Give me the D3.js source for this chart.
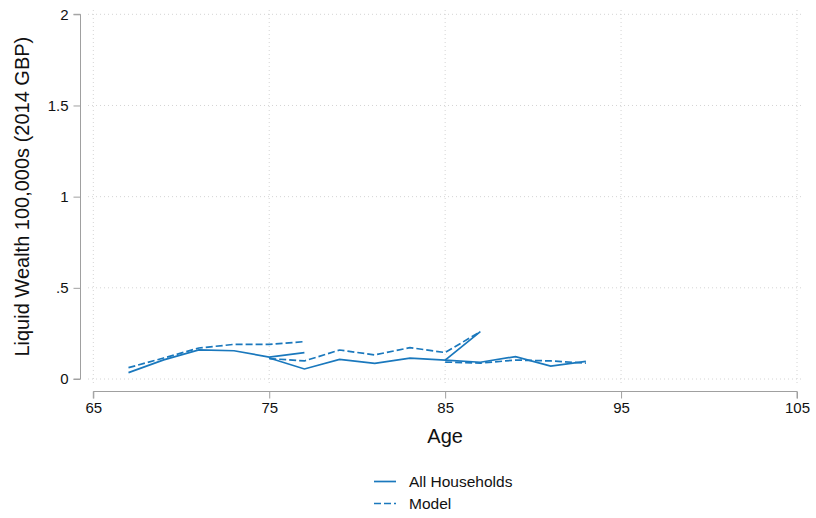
<!DOCTYPE html>
<html>
<head>
<meta charset="utf-8">
<script src="https://cdn.jsdelivr.net/npm/d3@7"></script>
<style>
  html, body { margin: 0; padding: 0; background: #fff; }
  svg { display: block; font-family: "Liberation Sans", Arial, sans-serif; }
</style>
</head>
<body>
<svg id="chart" width="816" height="518"></svg>
<script>
// Cohort profiles of liquid wealth by age (100,000s, 2014 GBP)
const cohort1Ages = [67, 69, 71, 73, 75, 77];
const cohort1Data = [0.035, 0.105, 0.16, 0.155, 0.12, 0.145];
const cohort1Model = [0.062, 0.115, 0.17, 0.19, 0.19, 0.205];

const cohort2Ages = [75, 77, 79, 81, 83, 85, 87];
const cohort2Data = [0.115, 0.055, 0.108, 0.086, 0.114, 0.104, 0.26];
const cohort2Model = [0.112, 0.099, 0.159, 0.132, 0.172, 0.145, 0.26];

const cohort3Ages = [85, 87, 89, 91, 93];
const cohort3Data = [0.104, 0.092, 0.123, 0.071, 0.097];
const cohort3Model = [0.093, 0.087, 0.104, 0.099, 0.087];

const xTicks = [65, 75, 85, 95, 105];
const yTicks = [0, 0.5, 1, 1.5, 2];
const yTickLabels = ["0", ".5", "1", "1.5", "2"];
const legendLabels = ["All Households", "Model"];

const lineColor = "#1a78bd";
const dashPattern = "7,3";
const axisGrey = "#a0a0a0";
const font = "Liberation Sans, Arial, sans-serif";

const svg = d3.select("#chart");

const x = d3.scaleLinear().domain([65, 105]).range([93.3, 797]);
const y = d3.scaleLinear().domain([0, 2]).range([379, 14.3]);

// dotted gridlines
const grid = svg.append("g");
grid.selectAll("line.h").data(yTicks).join("line")
  .attr("x1", 88).attr("x2", 801)
  .attr("y1", d => y(d)).attr("y2", d => y(d))
  .attr("stroke", "#d4d4d4").attr("stroke-width", 1)
  .attr("stroke-dasharray", "1,3");
grid.selectAll("line.v").data(xTicks).join("line")
  .attr("x1", d => x(d)).attr("x2", d => x(d))
  .attr("y1", 10).attr("y2", 384)
  .attr("stroke", "#d4d4d4").attr("stroke-width", 1)
  .attr("stroke-dasharray", "1,3");

// y axis
const yAxis = d3.axisLeft(y).tickValues(yTicks)
  .tickFormat((d, i) => yTickLabels[i]).tickSize(7).tickPadding(5);
const yg = svg.append("g").attr("transform", "translate(80.5,0)").call(yAxis);
yg.select(".domain").attr("stroke", axisGrey).attr("d", `M-7,${y(2)}H0V${y(0)}H-7`);
yg.selectAll(".tick line").attr("stroke", axisGrey);
yg.selectAll(".tick text").attr("font-size", 15).attr("fill", "#111")
  .attr("font-family", font);

// x axis
const xAxis = d3.axisBottom(x).tickValues(xTicks).tickSize(7).tickPadding(4);
const xg = svg.append("g").attr("transform", "translate(0,391.5)").call(xAxis);
xg.select(".domain").attr("stroke", axisGrey).attr("d", `M${x(65)},7V0H${x(105)}V7`);
xg.selectAll(".tick line").attr("stroke", axisGrey);
xg.selectAll(".tick text").attr("font-size", 15).attr("fill", "#111")
  .attr("font-family", font);

// axis titles
svg.append("text").attr("x", x(85)).attr("y", 443)
  .attr("text-anchor", "middle").attr("font-size", 20).attr("fill", "#111")
  .text("Age");
svg.append("text")
  .attr("transform", `translate(29,${y(1)}) rotate(-90)`)
  .attr("text-anchor", "middle").attr("font-size", 20).attr("fill", "#111")
  .text("Liquid Wealth 100,000s (2014 GBP)");

// series lines
const line = d3.line().x(d => x(d[0])).y(d => y(d[1]));
const series = [
  [cohort1Ages, cohort1Data, false],
  [cohort1Ages, cohort1Model, true],
  [cohort2Ages, cohort2Data, false],
  [cohort2Ages, cohort2Model, true],
  [cohort3Ages, cohort3Data, false],
  [cohort3Ages, cohort3Model, true]
];
svg.append("g").selectAll("path").data(series).join("path")
  .attr("d", s => line(d3.zip(s[0], s[1])))
  .attr("fill", "none").attr("stroke", lineColor).attr("stroke-width", 1.7)
  .attr("stroke-dasharray", s => s[2] ? dashPattern : null);

// legend
const legend = svg.append("g");
legendLabels.forEach((lab, i) => {
  const ly = 481.5 + i * 22;
  legend.append("line").attr("x1", 374).attr("x2", 396).attr("y1", ly).attr("y2", ly)
    .attr("stroke", lineColor).attr("stroke-width", 1.7)
    .attr("stroke-dasharray", i === 1 ? dashPattern : null);
  legend.append("text").attr("x", 409).attr("y", ly + 5.5)
    .attr("font-size", 15.5).attr("fill", "#111").text(lab);
});
</script>
</body>
</html>
